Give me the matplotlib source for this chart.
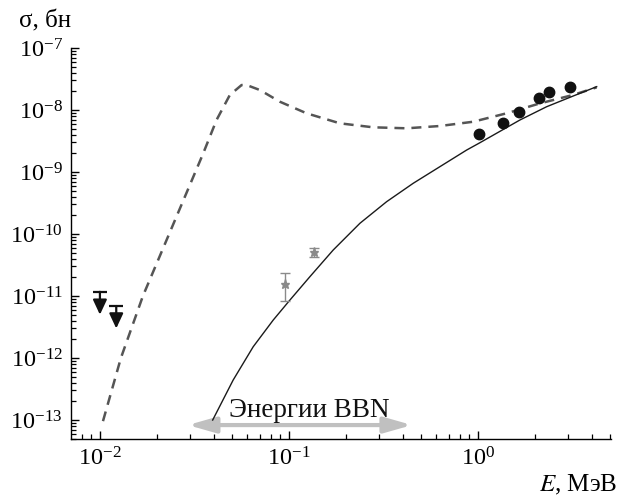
import matplotlib
matplotlib.use("Agg")
import matplotlib.pyplot as plt
from matplotlib.ticker import LogLocator, NullFormatter, FixedLocator

plt.rcParams['font.family'] = ['Liberation Serif', 'DejaVu Serif']
plt.rcParams['mathtext.fontset'] = 'stix'

# Theory curve (solid)
solid_E = [0.0395, 0.0507, 0.0647, 0.0826, 0.1012, 0.1291, 0.1715, 0.2375, 0.3287,
           0.4546, 0.6294, 0.8714, 1.025, 1.668, 2.31, 3.19, 4.25]
solid_s = [1.0e-13, 4.42e-13, 1.52e-12, 4.10e-12, 8.61e-12, 2.05e-11, 5.52e-11, 1.49e-10,
           3.32e-10, 6.58e-10, 1.22e-9, 2.26e-9, 2.97e-9, 6.90e-9, 1.13e-8, 1.68e-8, 2.38e-8]

# Theory curve (dashed)
dash_E = [0.01038, 0.01291, 0.01688, 0.0352, 0.0414, 0.0487, 0.0562, 0.0597, 0.0702,
          0.0896, 0.124, 0.186, 0.279, 0.4195, 0.629, 0.944, 1.418, 2.13, 3.19, 4.25]
dash_s = [9.6e-14, 1.0e-12, 1.0e-11, 2.0e-9, 6.9e-9, 1.75e-8, 2.53e-8, 2.53e-8, 2.1e-8,
          1.36e-8, 8.85e-9, 6.1e-9, 5.26e-9, 5.07e-9, 5.52e-9, 6.47e-9, 8.85e-9, 1.28e-8,
          1.75e-8, 2.32e-8]

# Experimental points (circles)
dots_E = [1.016, 1.351, 1.654, 2.111, 2.384, 3.07]
dots_s = [4.1e-9, 6.24e-9, 9.4e-9, 1.55e-8, 1.95e-8, 2.32e-8]

# Experimental points (stars with error bars)
star_E = [0.0953, 0.1356]
star_s = [1.58e-11, 5.1e-11]
star_lo = [8.3e-12, 4.2e-11]
star_hi = [2.32e-11, 5.9e-11]

# Upper limits
ul_E = [0.0100, 0.0122]
ul_top = [1.17e-11, 6.9e-12]
ul_tip = [5.0e-12, 3.0e-12]

# BBN energy range
bbn_range = [0.0292, 0.448]
bbn_y = 8.3e-14
bbn_label = "Энергии BBN"

x_major = [1e-2, 1e-1, 1e0]

fig = plt.figure(figsize=(6.25, 4.99), dpi=100)
ax = fig.add_axes([0.1136, 0.1202, 0.864, 0.7836])
ax.set_xscale('log')
ax.set_yscale('log')
ax.set_xlim(0.00703, 5.06)
ax.set_ylim(10**-13.306, 1e-7)

ax.plot(dash_E, dash_s, color='#555555', lw=1.8, linestyle=(0, (4, 2.8)))
ax.plot(solid_E, solid_s, color='#1a1a1a', lw=1.0)
ax.plot(dots_E, dots_s, 'o', color='#111111', ms=7.5, zorder=5)

yerr = [[s - l for s, l in zip(star_s, star_lo)], [h - s for s, h in zip(star_s, star_hi)]]
ax.errorbar(star_E, star_s, yerr=yerr, fmt='*', color='#8a8a8a', ms=6.5,
            elinewidth=1.0, capsize=3.6, capthick=1.0)

for x, t, b in zip(ul_E, ul_top, ul_tip):
    ax.plot([x], [t], marker='_', ms=9.5, mew=1.6, color='#111111')
    ax.annotate('', xy=(x, b), xytext=(x, t),
                arrowprops=dict(arrowstyle='-|>,head_length=0.9,head_width=0.42',
                                mutation_scale=10, color='#111111', lw=1.6,
                                shrinkA=0, shrinkB=0))

ax.annotate('', xy=(bbn_range[0], bbn_y), xytext=(bbn_range[1], bbn_y),
            arrowprops=dict(arrowstyle='<|-|>,head_length=1.65,head_width=0.47',
                            mutation_scale=10, color='#c0c0c0', lw=3,
                            shrinkA=0, shrinkB=0), zorder=1)
ax.text(0.1276, 1.45e-13, bbn_label, fontsize=19.5, ha='center', va='center', color='#111111')

for s in ['top', 'right']:
    ax.spines[s].set_visible(False)
for s in ['left', 'bottom']:
    ax.spines[s].set_linewidth(1.0)

ax.xaxis.set_major_locator(FixedLocator(x_major))
ax.xaxis.set_minor_locator(LogLocator(base=10, subs=range(2, 10), numticks=20))
ax.yaxis.set_major_locator(LogLocator(base=10, numticks=20))
ax.yaxis.set_minor_locator(LogLocator(base=10, subs=range(2, 10), numticks=40))
ax.xaxis.set_minor_formatter(NullFormatter())
ax.yaxis.set_minor_formatter(NullFormatter())
ax.tick_params(which='major', direction='in', length=6, width=1.0, labelsize=17.5, pad=6)
ax.tick_params(which='minor', direction='in', length=3.8, width=0.9)

fig.text(0.03, 0.958, "σ, бн", fontsize=18, ha='left', va='center')
fig.text(0.988, 0.028, "$\\it{E}$, МэВ", fontsize=18, ha='right', va='center')

fig.savefig('out.png', dpi=100)
